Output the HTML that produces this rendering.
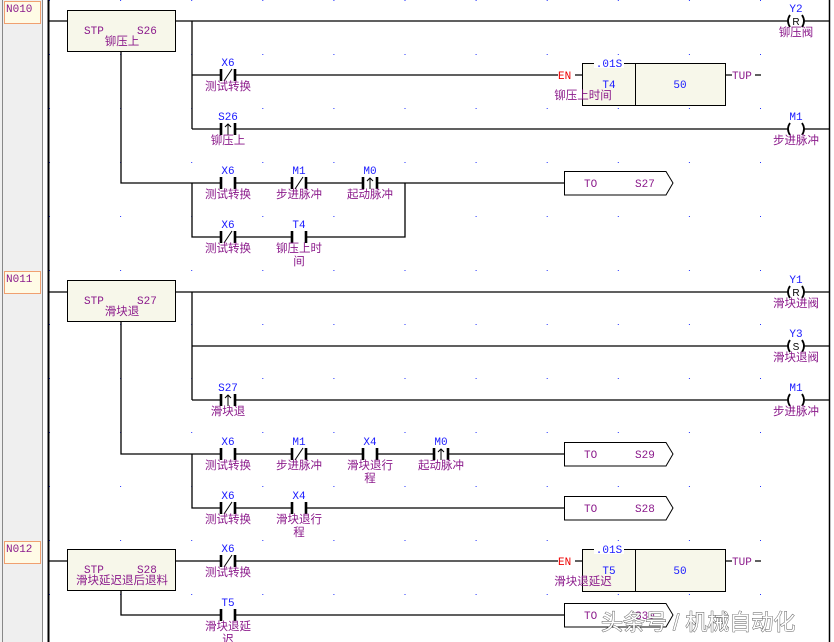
<!DOCTYPE html>
<html><head><meta charset="utf-8"><style>
html,body{margin:0;padding:0;background:#fff;}
svg{display:block;font-family:"Liberation Sans","Noto Sans CJK SC",sans-serif;}
.n{fill:#1a1aff;font-size:11px;text-anchor:middle;font-family:"Liberation Mono","Noto Sans CJK SC",monospace;}
.c{fill:#8b1a8b;font-size:11.5px;text-anchor:middle;}
.p{fill:#8b1a8b;font-size:11px;font-family:"Liberation Mono","Noto Sans CJK SC",monospace;}
.w{stroke:#000;stroke-width:1.3;fill:none;}
.b{stroke:#000;stroke-width:2.6;}
.s{stroke:#000;stroke-width:1;}
.cp{stroke:#000;stroke-width:1.8;fill:none;}
.cl{font-size:10px;text-anchor:middle;fill:#000;font-family:"Liberation Sans",sans-serif;}
</style></head><body>
<svg width="834" height="642" viewBox="0 0 834 642" xmlns="http://www.w3.org/2000/svg">
<defs>
<g id="no"><line class="b" x1="-7" y1="-6" x2="-7" y2="6"/><line class="b" x1="7" y1="-6" x2="7" y2="6"/></g>
<g id="nc"><use href="#no"/><line class="s" x1="-4" y1="6" x2="4" y2="-6"/></g>
<g id="re"><use href="#no"/><line class="s" x1="0" y1="6" x2="0" y2="-5"/><path d="M-3,-2 L0,-5 L3,-2" class="s" fill="none"/></g>
<g id="coil"><path class="cp" d="M-6,-6 Q-10,0 -6,6 M6,-6 Q10,0 6,6"/></g>
<pattern id="dots" x="49" y="0" width="71.1" height="54" patternUnits="userSpaceOnUse"><rect x="0" y="0" width="1" height="1" fill="#2233ff"/></pattern>
</defs>
<rect x="0" y="0" width="42" height="642" fill="#efefef"/>
<line x1="2.5" y1="0" x2="2.5" y2="642" stroke="#888" stroke-width="1"/>
<line x1="42.5" y1="0" x2="42.5" y2="642" stroke="#888" stroke-width="1"/>
<rect x="49" y="0" width="780" height="642" fill="url(#dots)"/>
<line x1="48.5" y1="0" x2="48.5" y2="642" stroke="#000" stroke-width="2"/>
<line x1="829.5" y1="0" x2="829.5" y2="642" stroke="#000" stroke-width="1.5"/>

<rect x="4.5" y="1.5" width="36" height="22" fill="#fffbe6" stroke="#f0a070"/><text class="p" x="6" y="12">N010</text>
<rect x="4.5" y="271.5" width="36" height="22" fill="#fffbe6" stroke="#f0a070"/><text class="p" x="6" y="282">N011</text>
<rect x="4.5" y="541.5" width="36" height="22" fill="#fffbe6" stroke="#f0a070"/><text class="p" x="6" y="552">N012</text>

<path class="w" d="M49,21H67 M175,21H788 M804,21H829 M192,21V129 M192,75H221 M235,75H558 M575,75H582 M192,129H221 M235,129H788 M804,129H829 M121,51V183H221 M235,183H292 M306,183H363 M377,183H564 M192,183V237H221 M235,237H292 M306,237H405V183"/>
<rect x="67.5" y="10.5" width="108" height="41" fill="#f7f7ea" stroke="#000"/>
<text class="p" x="84" y="34">STP</text><text class="p" x="137" y="34">S26</text><text class="c" x="122" y="45">铆压上</text>
<text class="n" x="796" y="12">Y2</text><use href="#coil" x="796" y="21"/><text class="cl" x="796" y="25">R</text><text class="c" x="796" y="36">铆压阀</text>
<use href="#nc" x="228" y="75"/><text class="n" x="228" y="66">X6</text><text class="c" x="228" y="90">测试转换</text>
<text x="558" y="79" style="fill:#e00;font-size:11px;font-family:'Liberation Mono',monospace">EN</text>
<rect x="582.5" y="63.5" width="143" height="42" fill="#f7f7ea" stroke="#000"/><line class="s" x1="635.5" y1="63" x2="635.5" y2="106"/>
<rect x="594" y="58" width="30" height="10" fill="#fff"/><text class="n" x="609" y="67">.01S</text>
<text class="n" x="609" y="88">T4</text><text class="n" x="680" y="88">50</text>
<text class="c" x="583" y="99">铆压上时间</text>
<path class="w" d="M725,75H732 M755,75H761"/><text class="p" x="732" y="79">TUP</text>
<use href="#re" x="228" y="129"/><text class="n" x="228" y="120">S26</text><text class="c" x="228" y="144">铆压上</text>
<text class="n" x="796" y="120">M1</text><use href="#coil" x="796" y="129"/><text class="c" x="796" y="144">步进脉冲</text>
<use href="#no" x="228" y="183"/><text class="n" x="228" y="174">X6</text><text class="c" x="228" y="198">测试转换</text>
<use href="#nc" x="299" y="183"/><text class="n" x="299" y="174">M1</text><text class="c" x="299" y="198">步进脉冲</text>
<use href="#re" x="370" y="183"/><text class="n" x="370" y="174">M0</text><text class="c" x="370" y="198">起动脉冲</text>
<use href="#nc" x="228" y="237"/><text class="n" x="228" y="228">X6</text><text class="c" x="228" y="252">测试转换</text>
<use href="#no" x="299" y="237"/><text class="n" x="299" y="228">T4</text><text class="c" x="299" y="252">铆压上时</text><text class="c" x="299" y="265">间</text>
<path d="M564.5,171.5H666L673,183L666,195H564.5Z" fill="#fff" stroke="#000"/><text class="p" x="584" y="187">TO</text><text class="p" x="635" y="187">S27</text>

<path class="w" d="M49,292H67 M175,292H788 M804,292H829 M192,292V400 M192,346H788 M804,346H829 M192,400H221 M235,400H788 M804,400H829 M121,321V454H221 M235,454H292 M306,454H363 M377,454H434 M448,454H564 M192,454V508H221 M235,508H292 M306,508H564"/>
<rect x="67.5" y="280.5" width="108" height="41" fill="#f7f7ea" stroke="#000"/>
<text class="p" x="84" y="304">STP</text><text class="p" x="137" y="304">S27</text><text class="c" x="122" y="315">滑块退</text>
<text class="n" x="796" y="283">Y1</text><use href="#coil" x="796" y="292"/><text class="cl" x="796" y="296">R</text><text class="c" x="796" y="307">滑块进阀</text>
<text class="n" x="796" y="337">Y3</text><use href="#coil" x="796" y="346"/><text class="cl" x="796" y="350">S</text><text class="c" x="796" y="361">滑块退阀</text>
<use href="#re" x="228" y="400"/><text class="n" x="228" y="391">S27</text><text class="c" x="228" y="415">滑块退</text>
<text class="n" x="796" y="391">M1</text><use href="#coil" x="796" y="400"/><text class="c" x="796" y="415">步进脉冲</text>
<use href="#no" x="228" y="454"/><text class="n" x="228" y="445">X6</text><text class="c" x="228" y="469">测试转换</text>
<use href="#nc" x="299" y="454"/><text class="n" x="299" y="445">M1</text><text class="c" x="299" y="469">步进脉冲</text>
<use href="#no" x="370" y="454"/><text class="n" x="370" y="445">X4</text><text class="c" x="370" y="469">滑块退行</text><text class="c" x="370" y="482">程</text>
<use href="#re" x="441" y="454"/><text class="n" x="441" y="445">M0</text><text class="c" x="441" y="469">起动脉冲</text>
<use href="#nc" x="228" y="508"/><text class="n" x="228" y="499">X6</text><text class="c" x="228" y="523">测试转换</text>
<use href="#no" x="299" y="508"/><text class="n" x="299" y="499">X4</text><text class="c" x="299" y="523">滑块退行</text><text class="c" x="299" y="536">程</text>
<path d="M564.5,442.5H666L673,454L666,466H564.5Z" fill="#fff" stroke="#000"/><text class="p" x="584" y="458">TO</text><text class="p" x="635" y="458">S29</text>
<path d="M564.5,496.5H666L673,508L666,520H564.5Z" fill="#fff" stroke="#000"/><text class="p" x="584" y="512">TO</text><text class="p" x="635" y="512">S28</text>

<path class="w" d="M49,561H67 M175,561H221 M235,561H558 M575,561H582 M121,591V615H221 M235,615H564"/>
<rect x="67.5" y="549.5" width="108" height="41" fill="#f7f7ea" stroke="#000"/>
<text class="p" x="84" y="573">STP</text><text class="p" x="137" y="573">S28</text><text class="c" x="122" y="584">滑块延迟退后退料</text>
<use href="#nc" x="228" y="561"/><text class="n" x="228" y="552">X6</text><text class="c" x="228" y="576">测试转换</text>
<text x="558" y="565" style="fill:#e00;font-size:11px;font-family:'Liberation Mono',monospace">EN</text>
<rect x="582.5" y="549.5" width="143" height="42" fill="#f7f7ea" stroke="#000"/><line class="s" x1="635.5" y1="549" x2="635.5" y2="592"/>
<rect x="594" y="544" width="30" height="10" fill="#fff"/><text class="n" x="609" y="553">.01S</text>
<text class="n" x="609" y="574">T5</text><text class="n" x="680" y="574">50</text>
<text class="c" x="583" y="585">滑块退延迟</text>
<path class="w" d="M725,561H732 M755,561H761"/><text class="p" x="732" y="565">TUP</text>
<use href="#no" x="228" y="615"/><text class="n" x="228" y="606">T5</text><text class="c" x="228" y="630">滑块退延</text><text class="c" x="228" y="643">迟</text>
<path d="M564.5,603.5H666L673,615L666,627H564.5Z" fill="#fff" stroke="#000"/><text class="p" x="584" y="619">TO</text><text class="p" x="635" y="619">S30</text>
<text x="601" y="630" style="font-size:22px;fill:#fff;stroke:#555;stroke-width:0.9;paint-order:stroke">头条号 / 机械自动化</text>
</svg>
</body></html>
